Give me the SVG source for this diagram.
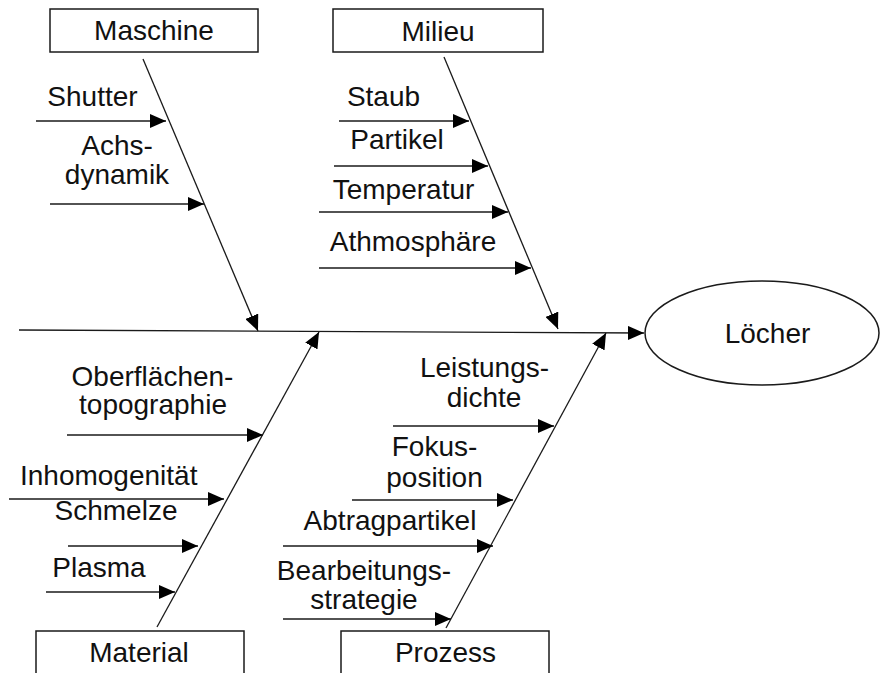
<svg xmlns="http://www.w3.org/2000/svg" width="880" height="673" viewBox="0 0 880 673">
  <style>
    .box { fill: #ffffff; stroke: #1a1a1a; stroke-width: 1.5; }
    .lbl { font-family: "Liberation Sans", Arial, sans-serif; font-size: 28px; fill: #111111; text-anchor: middle; }
    .edge { fill: none; stroke: #1a1a1a; stroke-width: 1.3; marker-end: url(#head); }
  </style>
  <defs>
    <marker id="head" markerUnits="userSpaceOnUse" markerWidth="16" markerHeight="14" refX="16" refY="7" orient="auto">
      <path d="M0,0 L16,7 L0,14 z" fill="#000000"/>
    </marker>
  </defs>
  <rect width="880" height="673" fill="#ffffff"/>

  <!-- connectors: backbone, category spines and cause arrows -->
  <g id="connectors">
    <line class="edge" x1="19" y1="330" x2="644" y2="333"/>
    <!-- category spines -->
    <line class="edge" x1="143" y1="59" x2="258" y2="331"/>
    <line class="edge" x1="444" y1="57" x2="558" y2="329"/>
    <line class="edge" x1="157" y1="627" x2="319" y2="332"/>
    <line class="edge" x1="446" y1="628" x2="606" y2="333"/>
    <!-- Maschine causes -->
    <line class="edge" x1="36" y1="121" x2="166" y2="121"/>
    <line class="edge" x1="50" y1="204" x2="204" y2="204"/>
    <!-- Milieu causes -->
    <line class="edge" x1="339" y1="121" x2="469" y2="121"/>
    <line class="edge" x1="334" y1="166" x2="488" y2="166"/>
    <line class="edge" x1="319" y1="212" x2="508" y2="212"/>
    <line class="edge" x1="319" y1="268" x2="531" y2="268"/>
    <!-- Material causes -->
    <line class="edge" x1="67" y1="435" x2="263" y2="435"/>
    <line class="edge" x1="9" y1="499" x2="224" y2="499"/>
    <line class="edge" x1="68" y1="546" x2="198" y2="546"/>
    <line class="edge" x1="46" y1="592" x2="175" y2="592"/>
    <!-- Prozess causes -->
    <line class="edge" x1="393" y1="426" x2="554" y2="426"/>
    <line class="edge" x1="352" y1="500" x2="513" y2="500"/>
    <line class="edge" x1="283" y1="546" x2="493" y2="546"/>
    <line class="edge" x1="283" y1="619" x2="451" y2="619"/>
  </g>

  <g id="maschine">
    <rect class="box" x="50" y="9" width="208" height="43"/>
    <text class="lbl" x="154" y="40">Maschine</text>
  </g>
  <g id="milieu">
    <rect class="box" x="333" y="9" width="210" height="43"/>
    <text class="lbl" x="438" y="41">Milieu</text>
  </g>
  <g id="material">
    <rect class="box" x="36" y="631" width="208" height="50"/>
    <text class="lbl" x="139" y="662">Material</text>
  </g>
  <g id="prozess">
    <rect class="box" x="341" y="631" width="208" height="50"/>
    <text class="lbl" x="445.5" y="662">Prozess</text>
  </g>
  <g id="loecher">
    <ellipse class="box" cx="762" cy="333" rx="117" ry="52"/>
    <text class="lbl" x="767.5" y="343">Löcher</text>
  </g>

  <g id="shutter"><text class="lbl" x="92.5" y="106">Shutter</text></g>
  <g id="achsdynamik">
    <text class="lbl" x="117" y="155">Achs-</text>
    <text class="lbl" x="117" y="184">dynamik</text>
  </g>

  <g id="staub"><text class="lbl" x="383.5" y="106">Staub</text></g>
  <g id="partikel"><text class="lbl" x="397" y="149">Partikel</text></g>
  <g id="temperatur"><text class="lbl" x="403.5" y="199">Temperatur</text></g>
  <g id="athmosphaere"><text class="lbl" x="413" y="251">Athmosphäre</text></g>

  <g id="oberflaechentopographie">
    <text class="lbl" x="152.5" y="385.5">Oberflächen-</text>
    <text class="lbl" x="153" y="414">topographie</text>
  </g>
  <g id="inhomogenitaet"><text class="lbl" x="108.7" y="485">Inhomogenität</text></g>
  <g id="schmelze"><text class="lbl" x="116" y="520">Schmelze</text></g>
  <g id="plasma"><text class="lbl" x="99" y="577">Plasma</text></g>

  <g id="leistungsdichte">
    <text class="lbl" x="484.5" y="377">Leistungs-</text>
    <text class="lbl" x="484" y="407">dichte</text>
  </g>
  <g id="fokusposition">
    <text class="lbl" x="434.5" y="456">Fokus-</text>
    <text class="lbl" x="434.5" y="487">position</text>
  </g>
  <g id="abtragpartikel"><text class="lbl" x="390" y="530">Abtragpartikel</text></g>
  <g id="bearbeitungsstrategie">
    <text class="lbl" x="364" y="580">Bearbeitungs-</text>
    <text class="lbl" x="364" y="609">strategie</text>
  </g>
</svg>
